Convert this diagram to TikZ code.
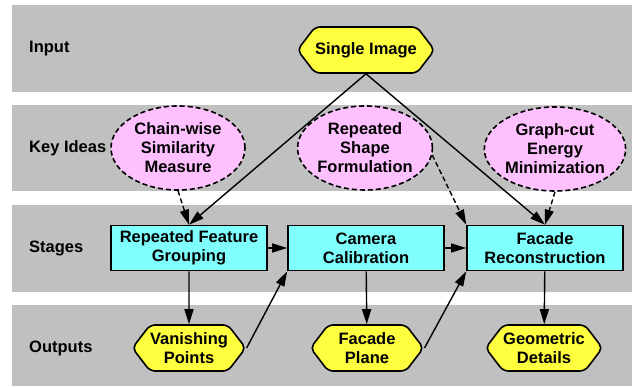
\documentclass[tikz,border=0pt]{standalone}
\usepackage{fontspec}
\setmainfont{Liberation Sans}
\usetikzlibrary{shapes.geometric,shapes.symbols,arrows.meta}
\definecolor{bandgray}{RGB}{192,192,192}
\definecolor{hexyellow}{RGB}{255,255,64}
\definecolor{ideapink}{RGB}{255,192,255}
\definecolor{stagecyan}{RGB}{128,255,255}
\begin{document}
\begin{tikzpicture}[x=1pt,y=-1pt,
  txt/.style={font=\fontsize{16.5}{19}\selectfont\bfseries, align=center},
  band/.style={fill=bandgray, draw=none},
  rowlabel/.style={txt, anchor=west, inner sep=0pt},
  datanode/.style={txt, shape=signal, signal to=east and west, signal pointer angle=105,
    fill=hexyellow, draw, line width=1.6pt, rounded corners=5pt,
    minimum width=113pt, minimum height=46pt, inner sep=0pt},
  idea/.style={txt, ellipse, dash pattern=on 5pt off 3pt, fill=ideapink, draw, line width=1.6pt,
    minimum width=134pt, minimum height=84pt, inner sep=0pt},
  stagebox/.style={txt, rectangle, fill=stagecyan, draw, line width=1.6pt,
    minimum width=156pt, minimum height=45pt, inner sep=0pt},
  flow/.style={-{Triangle[length=15pt,width=9pt]}, line width=1.4pt},
  hint/.style={flow, dash pattern=on 5pt off 3pt}]

\useasboundingbox (0,0) rectangle (635,387);

% horizontal bands
\fill[band] (12,5) rectangle (632,92);
\fill[band] (12,105) rectangle (632,191);
\fill[band] (12,205) rectangle (632,292);
\fill[band] (12,305) rectangle (632,386);

% row labels
\node[rowlabel] (lin) at (29,49) {Input};
\node[rowlabel] (lkey) at (29,148) {Key Ideas};
\node[rowlabel] (lstage) at (29,248) {Stages};
\node[rowlabel] (lout) at (29,348) {Outputs};

% input
\node[datanode] (si) at (366,50) {Single Image};

% key ideas
\node[idea] (cw) at (178,148) {Chain-wise\\Similarity\\Measure};
\node[idea] (rs) at (365,148) {Repeated\\Shape\\Formulation};
\node[idea] (gc) at (555,149) {Graph-cut\\Energy\\Minimization};

% stages
\node[stagebox] (rfg) at (189,248) {Repeated Feature\\Grouping};
\node[stagebox] (cc) at (366,248) {Camera\\Calibration};
\node[stagebox] (fr) at (545,248) {Facade\\Reconstruction};

% outputs
\node[datanode] (vp) at (189,348) {Vanishing\\Points};
\node[datanode] (fp) at (367,348) {Facade\\Plane};
\node[datanode] (gd) at (544,348) {Geometric\\Details};

% connectors
\draw[flow] (si.south) -- (rfg.north);
\draw[flow] (si.south) -- (fr.north);
\draw[hint] (cw.south) -- (rfg.north);
\draw[hint] (rs.-6) -- (fr.north west);
\draw[hint] (gc.south) -- (fr.north);
\draw[flow] (rfg) -- (cc);
\draw[flow] (cc) -- (fr);
\draw[flow] (rfg) -- (vp);
\draw[flow] (cc) -- (fp);
\draw[flow] (fr) -- (gd);
\draw[flow] (vp.east) -- (cc.south west);
\draw[flow] (fp.east) -- (fr.south west);
\end{tikzpicture}
\end{document}
